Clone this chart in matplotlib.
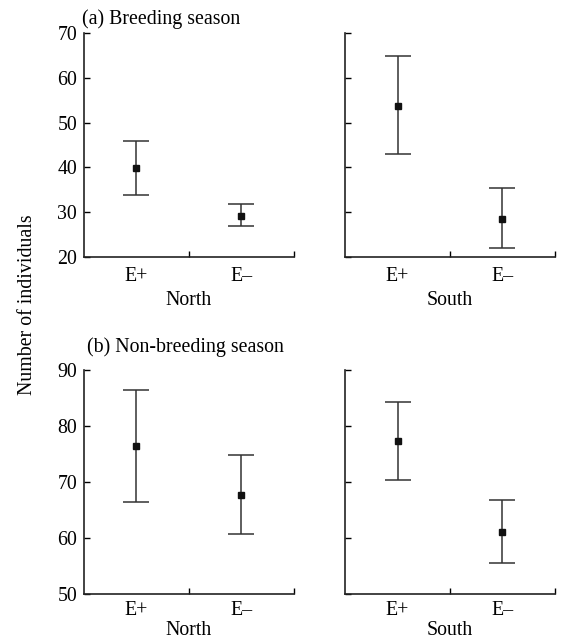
import numpy as np
import matplotlib
matplotlib.use('Agg')
import matplotlib.pyplot as plt

plt.rcParams['font.family'] = ['Liberation Serif', 'DejaVu Serif']
plt.rcParams['font.size'] = 14.3

# ---------------------------------------------------------------------------- #
#                                   Data                                       #
# ---------------------------------------------------------------------------- #
groups = ['E+', 'E\u2013']
regions = ['North', 'South']

# (a) breeding season: mean, upper, lower
breed_mean = {'North': [39.9, 29.2], 'South': [53.7, 28.4]}
breed_hi = {'North': [46.0, 31.9], 'South': [64.9, 35.4]}
breed_lo = {'North': [33.9, 26.9], 'South': [43.0, 22.0]}

# (b) non-breeding season
nonbreed_mean = {'North': [76.4, 67.6], 'South': [77.3, 61.1]}
nonbreed_hi = {'North': [86.4, 74.8], 'South': [84.3, 66.8]}
nonbreed_lo = {'North': [66.4, 60.7], 'South': [70.4, 55.5]}

breed_yticks = [20, 30, 40, 50, 60, 70]
nonbreed_yticks = [50, 60, 70, 80, 90]

# ---------------------------------------------------------------------------- #
#                                   Plot                                       #
# ---------------------------------------------------------------------------- #
fig = plt.figure(figsize=(5.62, 6.41), dpi=100)

lefts = [0.1495, 0.614]
w = 0.3735
rows = [(0.599, 0.3495, breed_mean, breed_hi, breed_lo, breed_yticks),
        (0.0733, 0.3495, nonbreed_mean, nonbreed_hi, nonbreed_lo, nonbreed_yticks)]

x = np.array([0.5, 1.5])
for r, (bottom, h, mean, hi, lo, yt) in enumerate(rows):
    for j, reg in enumerate(regions):
        ax = fig.add_axes([lefts[j], bottom, w, h])
        m = np.array(mean[reg])
        err = np.array([m - np.array(lo[reg]), np.array(hi[reg]) - m])
        ax.errorbar(x, m, yerr=err, fmt='s', color='#111111', ecolor='#333333',
                    markersize=5, elinewidth=1.1, capsize=9.5, capthick=1.1)
        ax.set_xlim(0, 2)
        ax.set_ylim(yt[0], yt[-1])
        ax.spines['top'].set_visible(False)
        ax.spines['right'].set_visible(False)
        for s in ['left', 'bottom']:
            ax.spines[s].set_linewidth(1.2)
            ax.spines[s].set_color('#222222')
        ax.set_yticks(yt)
        ax.tick_params(axis='y', direction='in', length=4, width=1, pad=5)
        if j == 1:
            ax.set_yticklabels([])
        ax.set_xticks(x)
        ax.set_xticklabels(groups)
        ax.tick_params(axis='x', which='major', length=0, pad=7 if r == 0 else 5)
        ax.set_xticks([1, 2], minor=True)
        ax.tick_params(axis='x', which='minor', direction='in', length=4, width=1)
        ax.set_xlabel(reg, labelpad=4 if r == 0 else 1)

fig.text(82 / 562, 1 - 19 / 641, '(a) Breeding season', ha='left', va='center')
fig.text(87 / 562, 1 - 347 / 641, '(b) Non-breeding season', ha='left', va='center')
fig.text(28 / 562, 1 - 305 / 641, 'Number of individuals', rotation=90,
         ha='center', va='center')

fig.savefig('out.png', dpi=100)
